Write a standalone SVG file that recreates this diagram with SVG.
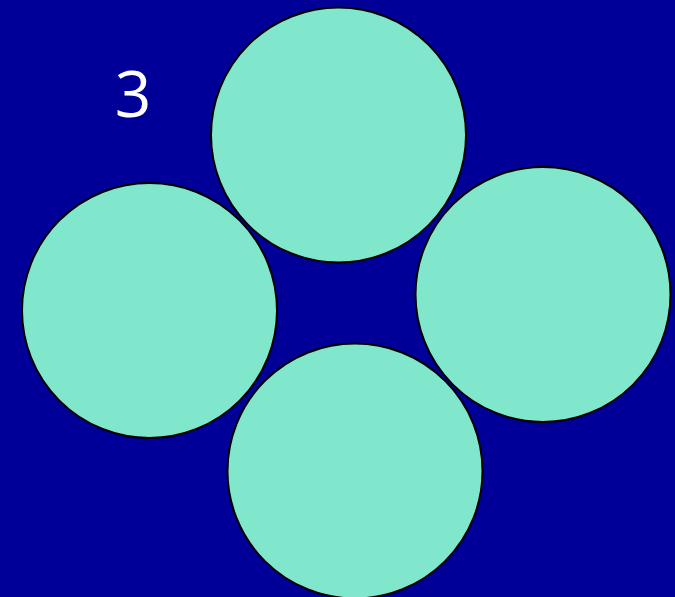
<svg xmlns="http://www.w3.org/2000/svg" width="675" height="597" viewBox="0 0 675 597">
<style>
.c{fill:#80e6cc;stroke:#000;stroke-width:2}
.t{fill:#fff;font-family:"Open Sans","Noto Sans",sans-serif;font-size:64px;text-anchor:middle}
</style>
<rect width="675" height="597" fill="#000099"/>
<text class="t" x="133" y="117">3</text>
<g id="top"><circle class="c" cx="338.5" cy="135" r="127.5"/></g>
<g id="left"><circle class="c" cx="149.5" cy="310.5" r="127.5"/></g>
<g id="right"><circle class="c" cx="543" cy="294.5" r="127.5"/></g>
<g id="bottom"><circle class="c" cx="355" cy="471" r="127.5"/></g>
<g id="connectors"/>
</svg>
